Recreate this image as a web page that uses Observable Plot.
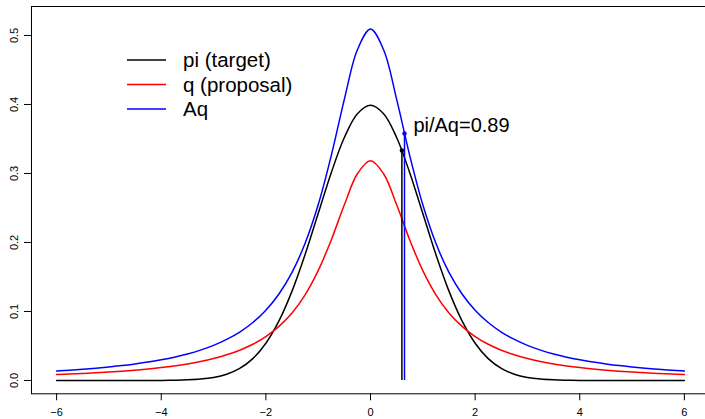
<!DOCTYPE html>
<html>
<head>
<meta charset="utf-8">
<script src="https://cdn.jsdelivr.net/npm/d3@7"></script>
<script src="https://cdn.jsdelivr.net/npm/@observablehq/plot@0.6"></script>
<style>
  html, body { margin: 0; padding: 0; background: #fff; }
  #chart svg { display: block; overflow: hidden; }
</style>
</head>
<body>
<div id="chart"></div>
<script>
const xVals = [-6,-5.75,-5.5,-5.25,-5,-4.75,-4.5,-4.25,-4,-3.75,-3.5,-3.25,-3,-2.75,-2.5,-2.25,-2,-1.75,-1.5,-1.25,-1,-0.75,-0.5,-0.25,
  0,0.25,0.5,0.75,1,1.25,1.5,1.75,2,2.25,2.5,2.75,3,3.25,3.5,3.75,4,4.25,4.5,4.75,5,5.25,5.5,5.75,6];
const piVals = [0,0,0,0,0,0,0,0,0.0001,0.0004,0.0009,0.0020,0.0044,0.0091,0.0175,0.0317,0.0540,0.0863,0.1295,0.1826,0.2420,0.3011,0.3521,0.3867,
  0.3989,0.3867,0.3521,0.3011,0.2420,0.1826,0.1295,0.0863,0.0540,0.0317,0.0175,0.0091,0.0044,0.0020,0.0009,0.0004,0.0001,0,0,0,0,0,0,0,0];
const qVals = [0.0086,0.0093,0.0102,0.0111,0.0122,0.0135,0.0150,0.0167,0.0187,0.0211,0.0240,0.0275,0.0318,0.0372,0.0439,0.0525,0.0637,0.0784,0.0979,0.1242,0.1592,0.2037,0.2546,0.2996,
  0.3183,0.2996,0.2546,0.2037,0.1592,0.1242,0.0979,0.0784,0.0637,0.0525,0.0439,0.0372,0.0318,0.0275,0.0240,0.0211,0.0187,0.0167,0.0150,0.0135,0.0122,0.0111,0.0102,0.0093,0.0086];
const aqVals = [0.0138,0.0149,0.0163,0.0178,0.0196,0.0216,0.0240,0.0267,0.0300,0.0338,0.0384,0.0440,0.0509,0.0595,0.0702,0.0840,0.1019,0.1254,0.1567,0.1988,0.2546,0.3259,0.4074,0.4793,
  0.5093,0.4793,0.4074,0.3259,0.2546,0.1988,0.1567,0.1254,0.1019,0.0840,0.0702,0.0595,0.0509,0.0440,0.0384,0.0338,0.0300,0.0267,0.0240,0.0216,0.0196,0.0178,0.0163,0.0149,0.0138];

const seriesNames = ["pi (target)", "q (proposal)", "Aq"];
const seriesColors = ["black", "red", "blue"];

// vertical segments at sample point
const segX = [0.6, 0.65];
const segTop = [0.3332, 0.358];
const segColors = ["black", "blue"];
const ratioLabel = "pi/Aq=0.89";
const labelPos = {x: 0.82, y: 0.37};

const xTicks = [-6, -4, -2, 0, 2, 4, 6];
const yTicks = [0, 0.1, 0.2, 0.3, 0.4, 0.5];

const lines = [];
[piVals, qVals, aqVals].forEach((vals, s) => {
  vals.forEach((v, i) => lines.push({x: xVals[i], y: v, s: seriesNames[s]}));
});
const segs = segX.map((x, i) => ({x, y1: 0, y2: segTop[i], c: segColors[i]}));

const font = "'Liberation Sans', Arial, Helvetica, sans-serif";

const plot = Plot.plot({
  width: 705,
  height: 419,
  marginLeft: 31,
  marginRight: -4,
  marginTop: 6,
  marginBottom: 25.7,
  style: {fontFamily: font, fontSize: "11px", background: "white", color: "black"},
  x: {domain: [-6.48, 6.48]},
  y: {domain: [-0.0193, 0.542]},
  color: {domain: seriesNames, range: seriesColors},
  marks: [
    Plot.frame({stroke: "black", strokeWidth: 1}),
    Plot.axisX({ticks: xTicks, tickSize: 7, tickPadding: 7, tickFormat: d3.format("d"), fontSize: 11, label: null, strokeWidth: 1}),
    Plot.axisY({ticks: yTicks, tickSize: 7, tickPadding: 7, tickFormat: d3.format(".1f"), tickRotate: -90, fontSize: 11, label: null, strokeWidth: 1}),
    Plot.line(lines, {x: "x", y: "y", z: "s", stroke: "s", strokeWidth: 1.5, curve: "catmull-rom"}),
    Plot.ruleX(segs, {x: "x", y1: "y1", y2: "y2", stroke: "c", strokeWidth: 1.5}),
    Plot.dot(segs, {x: "x", y: "y2", fill: "c", r: 2.2, stroke: null}),
    Plot.text([labelPos], {x: "x", y: "y", text: () => ratioLabel, textAnchor: "start", fontSize: 20, fill: "black"})
  ]
});

document.getElementById("chart").appendChild(plot);

// legend inside plot area (top-left)
const svg = d3.select(plot);
const lg = svg.append("g").attr("font-family", font).attr("font-size", 20.5).attr("text-anchor", "start");
seriesNames.forEach((name, i) => {
  const cy = 60 + i * 24.5;
  lg.append("line").attr("x1", 127).attr("x2", 166).attr("y1", cy).attr("y2", cy)
    .attr("stroke", seriesColors[i]).attr("stroke-width", 1.5);
  lg.append("text").attr("x", 183).attr("y", cy).attr("dy", "0.35em")
    .attr("text-anchor", "start").attr("fill", "black").text(name);
});
</script>
</body>
</html>
